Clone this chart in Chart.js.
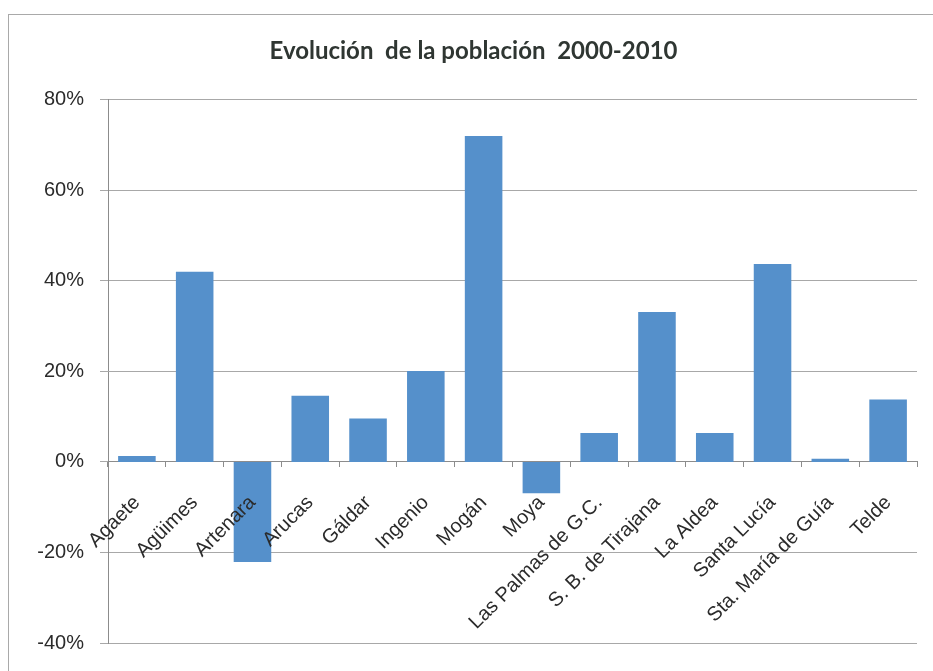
<!DOCTYPE html>
<html>
<head>
<meta charset="utf-8">
<script src="https://cdn.jsdelivr.net/npm/chart.js@4"></script>
<style>
  html, body { margin: 0; padding: 0; background: #fff; }
  #wrap { position: relative; width: 933px; height: 671px; overflow: hidden; }
  #frame { position: absolute; left: 8px; top: 14px; width: 940px; height: 700px; border: 1px solid #a9a9a9; box-sizing: border-box; }
  canvas { position: absolute; left: 0; top: 0; }
</style>
</head>
<body>
<div id="wrap">
  <div id="frame"></div>
  <canvas id="grafico" width="933" height="671"></canvas>
</div>
<script>
"use strict";

const municipios = [
    "Agaete", "Agüimes", "Artenara", "Arucas", "Gáldar", "Ingenio", "Mogán",
    "Moya", "Las Palmas de G.C.", "S. B. de Tirajana", "La Aldea", "Santa Lucía",
    "Sta. María de Guía", "Telde"
];
// variacion de poblacion 2000-2010 (fraccion)
const variacion = [
    0.013, 0.42, -0.221, 0.146, 0.096, 0.201, 0.72,
    -0.069, 0.064, 0.331, 0.064, 0.437, 0.007, 0.138
];
const ejeMin = -0.4;
const ejeMax = 0.8;
const ejePaso = 0.2;

const ctx = document.getElementById("grafico").getContext("2d");

const chart = new Chart(ctx, {
    type: "bar",
    data: {
        labels: municipios,
        datasets: [{
            label: "Evolución",
            data: variacion,
            backgroundColor: "#5590cb",
            borderWidth: 0,
            barPercentage: 0.65,
            categoryPercentage: 1
        }]
    },
    options: {
        responsive: false,
        animation: false,
        layout: { padding: { left: 30, right: 16, top: 0, bottom: 28 } },
        plugins: {
            legend: { display: false },
            tooltip: { enabled: false },
            title: {
                display: true,
                text: "Evolución  de la población  2000-2010",
                color: "#2f3632",
                font: { family: "Lato, 'Open Sans', sans-serif", size: 24, weight: "bold" },
                padding: { top: 37, bottom: 34 }
            }
        },
        scales: {
            x: {
                position: { y: 0 },
                grid: { display: true, drawOnChartArea: false, drawTicks: true, tickLength: 5, color: "#8c8c8c", offset: true },
                border: { display: true, color: "#8c8c8c" },
                ticks: {
                    z: 1,
                    autoSkip: false,
                    minRotation: 45,
                    maxRotation: 45,
                    padding: 24,
                    color: "#2b2b2b",
                    font: { family: "'Liberation Sans', Arial, sans-serif", size: 20 }
                }
            },
            y: {
                min: ejeMin,
                max: ejeMax,
                afterFit: (scale) => { scale.width = 78; },
                grid: { color: "#a8a8a8", tickLength: 8, drawTicks: true },
                border: { display: true, color: "#8c8c8c" },
                ticks: {
                    stepSize: ejePaso,
                    padding: 16,
                    color: "#2b2b2b",
                    font: { family: "'Liberation Sans', Arial, sans-serif", size: 20 },
                    callback: (v) => Math.round(v * 100) + "%"
                }
            }
        }
    }
});
</script>
</body>
</html>
